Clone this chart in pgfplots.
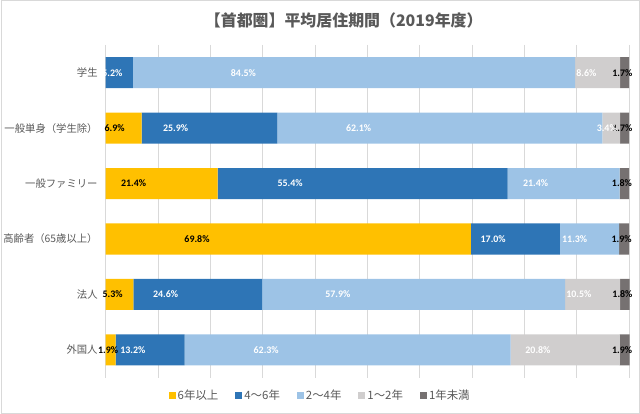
\documentclass[border=0pt]{standalone}
\usepackage{fontspec}
\setmainfont{Noto Sans CJK JP}
\newfontfamily\lab{Carlito}
\usepackage{pgfplots}
\pgfplotsset{compat=1.18}
\definecolor{cA}{HTML}{FFC000}
\definecolor{cB}{HTML}{2E75B6}
\definecolor{cC}{HTML}{9DC3E6}
\definecolor{cD}{HTML}{D0CECE}
\definecolor{cE}{HTML}{767171}
\definecolor{gridc}{HTML}{D9D9D9}
\definecolor{txt}{HTML}{595959}
\begin{document}
\begin{tikzpicture}
\draw[draw=gridc, line width=0.8bp] (0.4bp,0.4bp) rectangle (639.6bp,413.6bp);
\begin{axis}[
  at={(105bp,36bp)}, anchor=south west,
  scale only axis, width=524bp, height=333bp,
  xmin=0, xmax=100, ymin=-0.5, ymax=5.5, y dir=reverse,
  clip=false,
  xbar stacked, bar width=0.56,
  ytick={0,...,5},
  yticklabels={学生,一般単身（学生除）,一般ファミリー,高齢者（65歳以上）,法人,外国人},
  xtick={0,10,...,100}, xticklabels={},
  xmajorgrids, grid style={color=gridc, line width=0.75bp},
  axis line style={draw=none}, major tick length=0pt,
  yticklabel style={font=\fontsize{10.4}{12}\selectfont, text=txt, xshift=-4.5bp},
  title={\bfseries【首都圏】平均居住期間（2019年度）},
  title style={at={(0.455,1.057)}, anchor=center, font=\fontsize{16}{18}\selectfont, text=txt},
  legend style={at={(0.41,-0.054)}, anchor=center, legend columns=-1, draw=none,
    font=\fontsize{11.5}{13}\selectfont, text=txt,
    /tikz/every even column/.append style={column sep=15bp}},
  legend image code/.code={\fill[#1] (0bp,-3.5bp) rectangle (7bp,3.5bp);},
  visualization depends on=rawx \as \rawx,
  nodes near coords={\ifdim\rawx pt=0pt\else\pgfmathprintnumber[fixed,fixed zerofill,precision=1,assume math mode=true]{\rawx}\%\fi},
  every node near coord/.append style={anchor=center, xshift={-1.31435pt*\rawx}, font=\lab\bfseries\fontsize{10}{11}\selectfont},
]
\addplot[fill=cA, draw=none, every node near coord/.append style={text=black}] coordinates {(0,0) (6.9,1) (21.4,2) (69.8,3) (5.3,4) (1.9,5)};
\addplot[fill=cB, draw=none, every node near coord/.append style={text=white}] coordinates {(5.2,0) (25.9,1) (55.4,2) (17.0,3) (24.6,4) (13.2,5)};
\addplot[fill=cC, draw=none, every node near coord/.append style={text=white}] coordinates {(84.5,0) (62.1,1) (21.4,2) (11.3,3) (57.9,4) (62.3,5)};
\addplot[fill=cD, draw=none, every node near coord/.append style={text=white}] coordinates {(8.6,0) (3.4,1) (0,2) (0,3) (10.5,4) (20.8,5)};
\addplot[fill=cE, draw=none, every node near coord/.append style={text=black}] coordinates {(1.7,0) (1.7,1) (1.8,2) (1.9,3) (1.8,4) (1.9,5)};
\legend{6年以上,4〜6年,2〜4年,1〜2年,1年未満}
\end{axis}
\end{tikzpicture}
\end{document}
